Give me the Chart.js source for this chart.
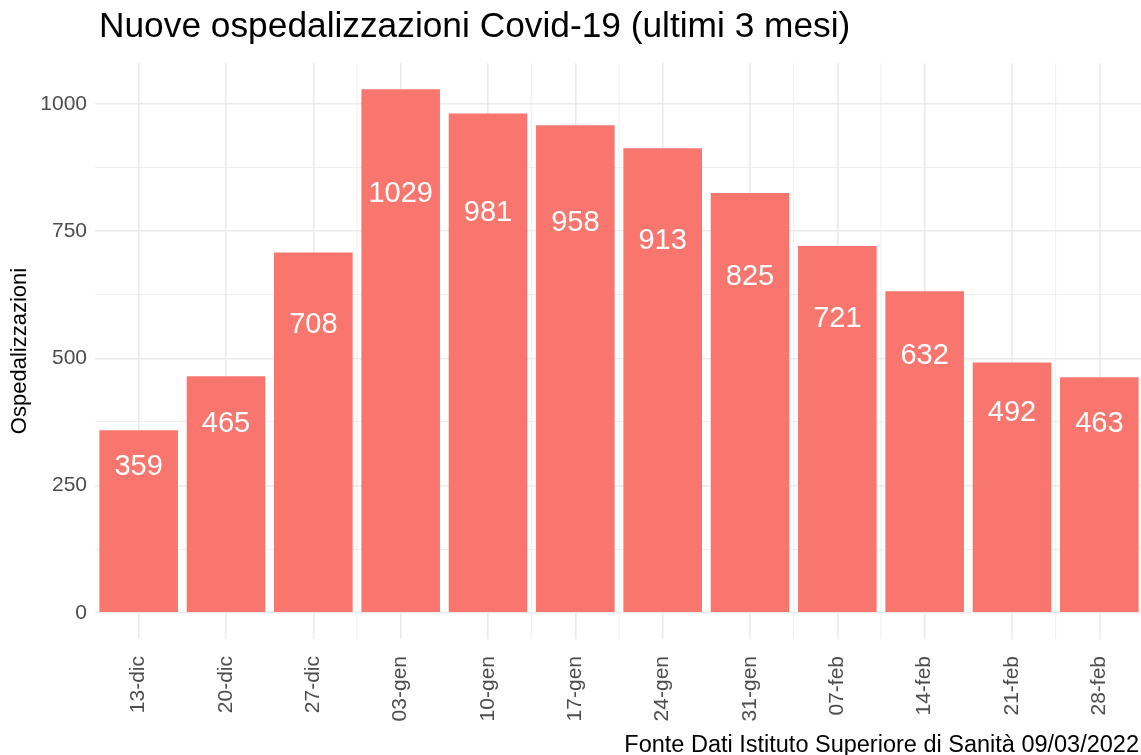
<!DOCTYPE html>
<html><head><meta charset="utf-8">
<script src="https://cdn.jsdelivr.net/npm/chart.js@4/dist/chart.umd.min.js"></script>
<style>
html,body{margin:0;padding:0;overflow:hidden;background:#fff;width:1141px;height:755px}
#wrap{position:absolute;left:0;top:0;width:1146px;height:755px}
</style>
</head><body><div id="wrap"><canvas id="c" width="1146" height="755"></canvas></div>
<script>
const categories = ['13-dic','20-dic','27-dic','03-gen','10-gen','17-gen','24-gen','31-gen','07-feb','14-feb','21-feb','28-feb'];
const hospitalizations = [359,465,708,1029,981,958,913,825,721,632,492,463];
const yTickValues = [0,250,500,750,1000];
const yMinorValues = [125,375,625,875];
const xMinorAfter = [2,4,5,7,8,10];
const titleText = 'Nuove ospedalizzazioni Covid-19 (ultimi 3 mesi)';
const captionText = 'Fonte Dati Istituto Superiore di Sanit\u00e0 09/03/2022';
const yAxisTitle = 'Ospedalizzazioni';

const FONT = '"Liberation Sans", Arial, Helvetica, sans-serif';
Chart.defaults.font.family = FONT;
const GRID = '#EBEBEB';
const maxV = Math.max(...hospitalizations);

const minorXPlugin = {
  id: 'minorX',
  beforeDatasetsDraw(chart) {
    const {ctx, chartArea, scales} = chart;
    const xs = scales.x;
    ctx.save();
    ctx.strokeStyle = GRID;
    ctx.lineWidth = 0.8;
    xMinorAfter.forEach(i => {
      const x = (xs.getPixelForValue(i) + xs.getPixelForValue(i + 1)) / 2;
      ctx.beginPath();
      ctx.moveTo(x, chartArea.top);
      ctx.lineTo(x, chartArea.bottom);
      ctx.stroke();
    });
    ctx.restore();
  }
};

const labelPlugin = {
  id: 'barLabels',
  afterDatasetsDraw(chart) {
    const {ctx, scales} = chart;
    const meta = chart.getDatasetMeta(0);
    ctx.save();
    ctx.font = '29px ' + FONT;
    ctx.fillStyle = '#FFFFFF';
    ctx.textAlign = 'center';
    ctx.textBaseline = 'middle';
    meta.data.forEach((bar, i) => {
      const v = hospitalizations[i];
      ctx.fillText(String(v), bar.x, scales.y.getPixelForValue(v * 0.8));
    });
    ctx.restore();
  }
};

const textPlugin = {
  id: 'texts',
  afterDraw(chart) {
    const {ctx} = chart;
    ctx.save();
    ctx.fillStyle = '#000000';
    ctx.textBaseline = 'alphabetic';
    ctx.font = '35.3px ' + FONT;
    ctx.textAlign = 'left';
    ctx.fillText(titleText, 99, 37);
    ctx.font = '23.5px ' + FONT;
    ctx.textAlign = 'right';
    ctx.fillText(captionText, 1139, 752);
    ctx.restore();
  }
};

new Chart(document.getElementById('c'), {
  type: 'bar',
  data: {
    labels: categories,
    datasets: [{
      data: hospitalizations,
      backgroundColor: '#F8766D',
      borderWidth: 0,
      barPercentage: 0.9,
      categoryPercentage: 1.0
    }]
  },
  options: {
    responsive: false,
    animation: false,
    devicePixelRatio: 1,
    layout: {padding: {top: 63, right: 3, left: 0, bottom: 0}},
    plugins: {legend: {display: false}, tooltip: {enabled: false}, title: {display: false}},
    scales: {
      x: {
        type: 'category',
        offset: true,
        grid: {offset: false, color: GRID, lineWidth: 1.6, drawTicks: false},
        border: {display: false},
        ticks: {
          minRotation: 90, maxRotation: 90, autoSkip: false,
          padding: 17, color: '#4D4D4D', font: {size: 21}
        },
        afterFit(scale) { scale.height = 116; }
      },
      y: {
        min: -0.05 * maxV,
        max: 1.05 * maxV,
        afterBuildTicks(scale) {
          scale.ticks = [...yTickValues, ...yMinorValues].sort((a, b) => a - b).map(v => ({value: v}));
        },
        grid: {
          color: GRID,
          drawTicks: false,
          lineWidth: (c) => (c.tick && yTickValues.includes(c.tick.value)) ? 1.6 : 0.8
        },
        border: {display: false},
        ticks: {
          padding: 8, color: '#4D4D4D', font: {size: 21},
          callback: (v) => yTickValues.includes(v) ? String(v) : ''
        },
        title: {display: true, text: yAxisTitle, color: '#000000', font: {size: 22}, padding: {top: 7, bottom: 0}},
        afterFit(scale) { scale.width = 95; }
      }
    }
  },
  plugins: [minorXPlugin, labelPlugin, textPlugin]
});
</script>
</body></html>
